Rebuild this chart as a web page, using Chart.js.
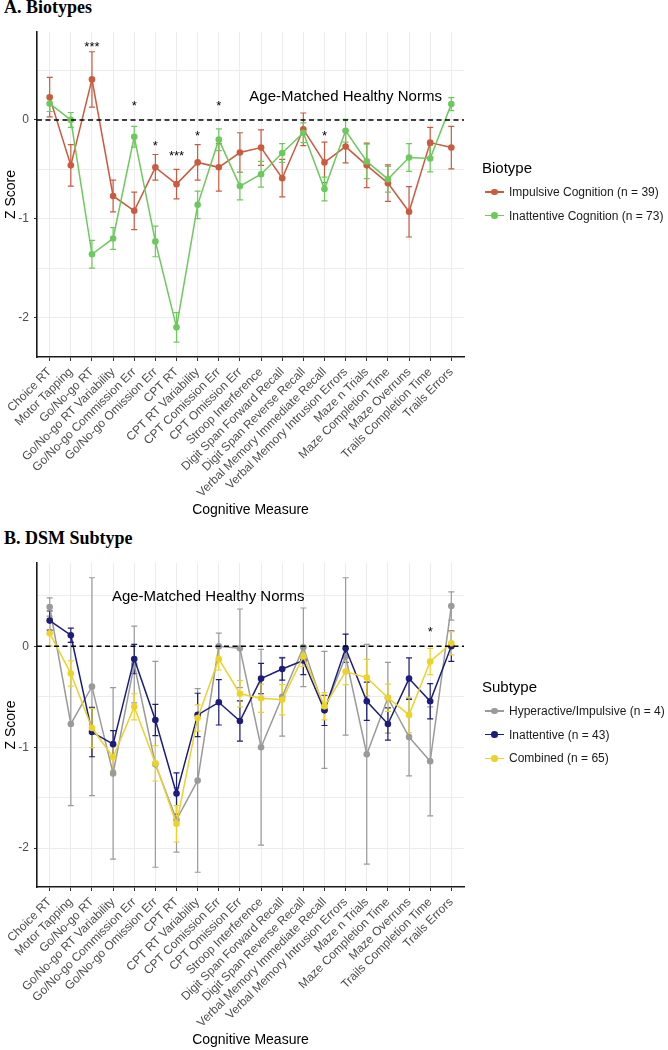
<!DOCTYPE html>
<html>
<head>
<meta charset="utf-8">
<script src="https://cdn.jsdelivr.net/npm/chart.js@4.4.1/dist/chart.umd.min.js"></script>
<style>
  body { margin: 0; background: #fff; font-family: 'Liberation Sans', Arial, sans-serif; }
  #page { position: relative; width: 668px; height: 1050px; overflow: hidden; }
  canvas { position: absolute; left: 0; }
  .ptitle { position: absolute; left: 4px; font-family: 'Liberation Serif', 'Times New Roman', serif;
            font-weight: bold; font-size: 18px; line-height: 20px; color: #000; white-space: nowrap; }
  .ltitle { position: absolute; font-size: 15px; line-height: 18px; color: #000; white-space: nowrap; }
  .litem { position: absolute; font-size: 12px; line-height: 14px; color: #1a1a1a; white-space: nowrap; }
  .kline { position: absolute; height: 1.5px; width: 19px; }
  .kdot { position: absolute; width: 6.6px; height: 6.6px; border-radius: 50%; }
</style>
</head>
<body>
<div id="page">
  <div class="ptitle" style="top:-3px">A. Biotypes</div>
  <canvas id="chartA" width="668" height="520" style="top:0"></canvas>
  <div id="legendA"></div>

  <div class="ptitle" style="top:528px">B. DSM Subtype</div>
  <canvas id="chartB" width="668" height="525" style="top:525px"></canvas>
  <div id="legendB"></div>
</div>
<script>
// categories and tick labels
const measures = ['Choice RT', 'Motor Tapping', 'Go/No-go RT', 'Go/No-go RT Variability',
  'Go/No-go Commission Err', 'Go/No-go Omission Err', 'CPT RT', 'CPT RT Variability',
  'CPT Comission Err', 'CPT Omission Err', 'Stroop Interference', 'Digit Span Forward Recall',
  'Digit Span Reverse Recall', 'Verbal Memory Immediate Recall', 'Verbal Memory Intrusion Errors',
  'Maze n Trials', 'Maze Completion Time', 'Maze Overruns', 'Trails Completion Time', 'Trails Errors'];
const zTicks = [0, -1, -2];
const zGrid = [0.5, 0, -0.5, -1, -1.5, -2];
const normLabel = 'Age-Matched Healthy Norms';

// A. Biotypes
const impulsiveMean = [0.23, -0.46, 0.41, -0.77, -0.92, -0.48, -0.65, -0.43, -0.48, -0.33,
  -0.28, -0.59, -0.095, -0.43, -0.27, -0.46, -0.64, -0.93, -0.23, -0.28];
const impulsiveErr = [0.20, 0.21, 0.28, 0.16, 0.19, 0.13, 0.15, 0.18, 0.24, 0.20,
  0.18, 0.19, 0.165, 0.205, 0.165, 0.225, 0.185, 0.255, 0.155, 0.215];
const inattCogMean = [0.165, 0.0, -1.36, -1.20, -0.17, -1.23, -2.10, -0.86, -0.20, -0.67,
  -0.55, -0.335, -0.13, -0.70, -0.11, -0.42, -0.60, -0.38, -0.39, 0.16];
const inattCogErr = [0.08, 0.075, 0.14, 0.11, 0.105, 0.155, 0.15, 0.14, 0.11, 0.14,
  0.13, 0.095, 0.10, 0.12, 0.115, 0.175, 0.13, 0.14, 0.135, 0.065];
const sigA = ['', '', '***', '', '*', '*', '***', '*', '*', '', '', '', '', '*', '', '', '', '', '', ''];
const sigAY = [0, 0, 0.77, 0, 0.18, -0.23, -0.33, -0.125, 0.18, 0, 0, 0, 0, -0.125, 0, 0, 0, 0, 0, 0];

// B. DSM Subtype
const hyperMean = [0.39, -0.77, -0.40, -1.26, -0.18, -1.17, -1.72, -1.33, 0.0, -0.02,
  -1.00, -0.50, -0.01, -0.63, -0.10, -1.07, -0.51, -0.90, -1.14, 0.40];
const hyperErr = [0.09, 0.81, 1.08, 0.85, 0.38, 1.02, 0.32, 0.91, 0.13, 0.39,
  0.97, 0.39, 0.39, 0.58, 0.78, 1.09, 0.35, 0.385, 0.54, 0.14];
const inattMean = [0.255, 0.11, -0.85, -0.97, -0.125, -0.73, -1.46, -0.68, -0.555, -0.74,
  -0.32, -0.225, -0.14, -0.635, -0.02, -0.545, -0.77, -0.32, -0.545, 0.0];
const inattErr = [0.095, 0.07, 0.245, 0.135, 0.145, 0.155, 0.205, 0.215, 0.225, 0.20,
  0.15, 0.11, 0.14, 0.15, 0.14, 0.19, 0.16, 0.205, 0.175, 0.15];
const combMean = [0.13, -0.27, -0.81, -1.10, -0.60, -1.16, -1.76, -0.71, -0.125, -0.47,
  -0.515, -0.53, -0.10, -0.595, -0.25, -0.31, -0.51, -0.68, -0.15, 0.03];
const combErr = [0.125, 0.125, 0.195, 0.13, 0.13, 0.175, 0.18, 0.13, 0.11, 0.13,
  0.14, 0.15, 0.10, 0.135, 0.13, 0.18, 0.135, 0.175, 0.13, 0.115];
const sigB = ['', '', '', '', '', '', '', '', '', '', '', '', '', '', '', '', '', '', '*', ''];
const sigBY = [0, 0, 0, 0, 0, 0, 0, 0, 0, 0, 0, 0, 0, 0, 0, 0, 0, 0, 0.18, 0];

Chart.defaults.font.family = "'Liberation Sans', Arial, sans-serif";

// error bars under the lines
const errorBars = {
  id: 'errorBars',
  beforeDatasetsDraw(chart) {
    const { ctx, scales: { x, y } } = chart;
    chart.data.datasets.forEach(ds => {
      ctx.save();
      ctx.strokeStyle = ds.borderColor;
      ctx.lineWidth = 1.2;
      ds.err.forEach((e, j) => {
        const px = x.getPixelForValue(j + 1);
        const m = ds.data[j].y;
        const top = y.getPixelForValue(m + e), bot = y.getPixelForValue(m - e);
        ctx.beginPath();
        ctx.moveTo(px, top); ctx.lineTo(px, bot);
        ctx.moveTo(px - 3, top); ctx.lineTo(px + 3, top);
        ctx.moveTo(px - 3, bot); ctx.lineTo(px + 3, bot);
        ctx.stroke();
      });
      ctx.restore();
    });
  }
};

// dashed norm line, its label and significance stars
const normLine = {
  id: 'normLine',
  afterDatasetsDraw(chart, args, opts) {
    const { ctx, chartArea, scales: { x, y } } = chart;
    const y0 = y.getPixelForValue(0);
    ctx.save();
    ctx.strokeStyle = '#000';
    ctx.lineWidth = 1.5;
    ctx.setLineDash([5, 3.5]);
    ctx.beginPath();
    ctx.moveTo(chartArea.left, y0);
    ctx.lineTo(chartArea.right, y0);
    ctx.stroke();
    ctx.setLineDash([]);

    ctx.fillStyle = '#000';
    ctx.font = "15px 'Liberation Sans', Arial, sans-serif";
    ctx.textAlign = 'center';
    ctx.textBaseline = 'middle';
    ctx.fillText(normLabel, x.getPixelForValue(opts.labelX), y.getPixelForValue(opts.labelY));

    ctx.font = "13px 'Liberation Sans', Arial, sans-serif";
    ctx.textBaseline = 'alphabetic';
    opts.sig.forEach((s, i) => {
      if (!s) return;
      ctx.fillText(s, x.getPixelForValue(i + 1), y.getPixelForValue(opts.sigY[i]) + 7.4);
    });
    ctx.restore();
  }
};

function series(label, mean, err, color, order) {
  return {
    label: label,
    data: mean.map((v, i) => ({ x: i + 1, y: v })),
    err: err,
    borderColor: color,
    backgroundColor: color,
    borderWidth: 1.5,
    pointRadius: 3.3,
    pointHoverRadius: 3.3,
    pointBorderWidth: 0,
    tension: 0,
    order: order
  };
}

function makeChart(id, datasets, yMin, yMax, topPad, labelX, labelY, sig, sigY) {
  const canvas = document.getElementById(id);
  return new Chart(canvas.getContext('2d'), {
    type: 'line',
    data: { datasets: datasets },
    options: {
      responsive: false,
      animation: false,
      layout: { padding: { top: topPad, right: 204, left: 0, bottom: 0 } },
      plugins: {
        legend: { display: false },
        tooltip: { enabled: false },
        normLine: { labelX: labelX, labelY: labelY, sig: sig, sigY: sigY }
      },
      scales: {
        x: {
          type: 'linear',
          min: 0.4,
          max: 20.6,
          afterBuildTicks: s => { s.ticks = measures.map((_, i) => ({ value: i + 1 })); },
          afterFit: s => { s.height = 163; },
          ticks: {
            autoSkip: false,
            minRotation: 45,
            maxRotation: 45,
            padding: 4,
            color: '#4d4d4d',
            font: { size: 12 },
            callback: v => measures[v - 1]
          },
          grid: { color: '#ececec', lineWidth: 1, tickColor: '#333', tickLength: 4 },
          border: { display: true, color: '#1a1a1a', width: 1.6 },
          title: { display: true, text: 'Cognitive Measure', color: '#000', font: { size: 14 },
                   padding: { top: 0, bottom: 1 } }
        },
        y: {
          min: yMin,
          max: yMax,
          afterBuildTicks: s => { s.ticks = zGrid.map(v => ({ value: v })); },
          afterFit: s => { s.width = 37; },
          ticks: {
            padding: 5,
            color: '#4d4d4d',
            font: { size: 12 },
            callback: v => zTicks.includes(v) ? String(v) : ''
          },
          grid: {
            color: '#ececec', lineWidth: 1, tickLength: 3,
            tickColor: c => zTicks.includes(c.tick.value) ? '#333' : 'rgba(0,0,0,0)'
          },
          border: { display: true, color: '#1a1a1a', width: 1.6 },
          title: { display: true, text: 'Z Score', color: '#000', font: { size: 14 },
                   padding: { top: 3, bottom: 0 } }
        }
      }
    },
    plugins: [errorBars, normLine]
  });
}

function drawLegend(el, title, items, top) {
  let html = `<div class="ltitle" style="left:482px;top:${top - 9}px">${title}</div>`;
  items.forEach((it, i) => {
    const cy = top + 23.8 * (i + 1);
    html += `<div class="kline" style="left:485px;top:${cy - 0.75}px;background:${it.color}"></div>`;
    html += `<div class="kdot" style="left:491.2px;top:${cy - 3.3}px;background:${it.color}"></div>`;
    html += `<div class="litem" style="left:509px;top:${cy - 7}px">${it.label}</div>`;
  });
  el.innerHTML = html;
}

const red = '#cb5a3e', green = '#6cc95c', gray = '#9a9a9a', navy = '#1c1c7c', yellow = '#ecd22a';

makeChart('chartA', [
  series('Impulsive Cognition (n = 39)', impulsiveMean, impulsiveErr, red, 0),
  series('Inattentive Cognition (n = 73)', inattCogMean, inattCogErr, green, -1)
], -2.40, 0.89, 32, 15, 0.23, sigA, sigAY);

makeChart('chartB', [
  series('Hyperactive/Impulsive (n = 4)', hyperMean, hyperErr, gray, 0),
  series('Inattentive (n = 43)', inattMean, inattErr, navy, -1),
  series('Combined (n = 65)', combMean, combErr, yellow, -2)
], -2.386, 0.826, 38, 8.5, 0.49, sigB, sigBY);

drawLegend(document.getElementById('legendA'), 'Biotype', [
  { label: 'Impulsive Cognition (n = 39)', color: red },
  { label: 'Inattentive Cognition (n = 73)', color: green }
], 168);
drawLegend(document.getElementById('legendB'), 'Subtype', [
  { label: 'Hyperactive/Impulsive (n = 4)', color: gray },
  { label: 'Inattentive (n = 43)', color: navy },
  { label: 'Combined (n = 65)', color: yellow }
], 687);
</script>
</body>
</html>
